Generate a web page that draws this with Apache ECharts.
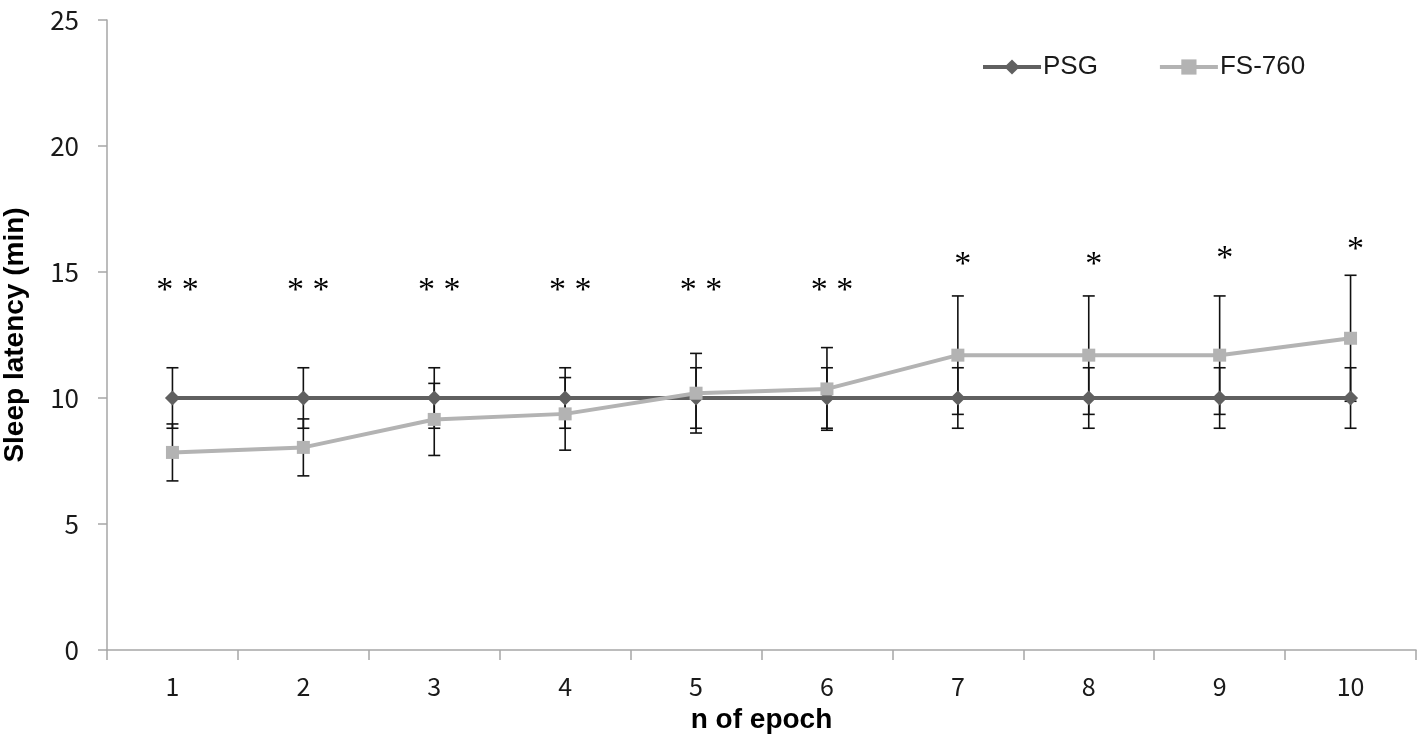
<!DOCTYPE html>
<html>
<head>
<meta charset="utf-8">
<script src="https://cdn.jsdelivr.net/npm/echarts@6/dist/echarts.min.js"></script>
<style>
  html, body { margin: 0; padding: 0; background: #fff; }
  #chart { width: 1424px; height: 739px; }
</style>
</head>
<body>
<div id="chart"></div>
<script>
// epochs on the x axis
const categories = ['1', '2', '3', '4', '5', '6', '7', '8', '9', '10']
// mean sleep latency (min)
const psgValues = [10, 10, 10, 10, 10, 10, 10, 10, 10, 10]
const psgErr = [1.2, 1.2, 1.2, 1.2, 1.2, 1.2, 1.2, 1.2, 1.2, 1.2]
const fsValues = [7.84, 8.04, 9.15, 9.37, 10.19, 10.36, 11.7, 11.7, 11.7, 12.37]
const fsErr = [1.13, 1.13, 1.43, 1.44, 1.58, 1.64, 2.35, 2.35, 2.35, 2.5]
// significance marks and the level they sit at
const sigText = ['* *', '* *', '* *', '* *', '* *', '* *', '*', '*', '*', '*']
const sigY = [14.5, 14.5, 14.5, 14.5, 14.5, 14.5, 15.5, 15.5, 15.75, 16.1]
const yTicks = [0, 5, 10, 15, 20, 25]

const axisGray = '#a6a6a6'
const labelFont = '"Noto Sans CJK JP", "Noto Sans", sans-serif'

const errData = (vals, errs) => vals.map((v, i) => [i, v - errs[i], v + errs[i]])

const renderErr = (params, api) => {
	const lo = api.coord([api.value(0), api.value(1)])
	const hi = api.coord([api.value(0), api.value(2)])
	const half = 6
	const style = { stroke: '#111', lineWidth: 1.6 }
	return {
		type: 'group',
		children: [
			{ type: 'line', shape: { x1: lo[0], y1: lo[1], x2: hi[0], y2: hi[1] }, style },
			{ type: 'line', shape: { x1: lo[0] - half, y1: lo[1], x2: lo[0] + half, y2: lo[1] }, style },
			{ type: 'line', shape: { x1: hi[0] - half, y1: hi[1], x2: hi[0] + half, y2: hi[1] }, style }
		]
	}
}

const chart = echarts.init(document.getElementById('chart'), null, { renderer: 'canvas' })

const option = {
	animation: false,
	backgroundColor: '#fff',
	grid: { left: 107, right: 8, top: 20, bottom: 89, containLabel: false, outerBoundsMode: 'none' },
	legend: {
		data: ['PSG', 'FS-760'],
		left: 976,
		top: 49,
		itemWidth: 58,
		itemHeight: 19,
		itemGap: 60,
		lineStyle: { width: 4 },
		textStyle: { fontSize: 26, color: '#1a1a1a', fontFamily: '"Liberation Sans", Arial, sans-serif', padding: [0, 0, 0, -3] }
	},
	xAxis: {
		type: 'category',
		data: categories,
		boundaryGap: true,
		name: 'n of epoch',
		nameLocation: 'middle',
		nameGap: 56,
		nameTextStyle: { fontSize: 28, fontWeight: 'bold', color: '#000', fontFamily: '"Liberation Sans", Arial, sans-serif' },
		axisLine: { show: true, lineStyle: { color: axisGray, width: 1.5 } },
		axisTick: { show: true, length: 10, lineStyle: { color: axisGray, width: 1.5 } },
		axisLabel: { fontSize: 25, color: '#1a1a1a', margin: 24, fontFamily: labelFont },
		splitLine: { show: false }
	},
	yAxis: {
		type: 'value',
		min: yTicks[0],
		max: yTicks[yTicks.length - 1],
		interval: 5,
		name: 'Sleep latency (min)',
		nameLocation: 'middle',
		nameGap: 78,
		nameTextStyle: { fontSize: 28, fontWeight: 'bold', color: '#000', fontFamily: '"Liberation Sans", Arial, sans-serif' },
		axisLine: { show: true, lineStyle: { color: axisGray, width: 1.5 } },
		axisTick: { show: true, length: 9, lineStyle: { color: axisGray, width: 1.5 } },
		axisLabel: { fontSize: 26, color: '#1a1a1a', margin: 28, fontFamily: labelFont },
		splitLine: { show: false }
	},
	series: [
		{
			name: 'PSG err',
			type: 'custom',
			renderItem: renderErr,
			data: errData(psgValues, psgErr),
			z: 1,
			silent: true
		},
		{
			name: 'FS-760 err',
			type: 'custom',
			renderItem: renderErr,
			data: errData(fsValues, fsErr),
			z: 1,
			silent: true
		},
		{
			name: 'PSG',
			type: 'line',
			data: psgValues,
			z: 3,
			symbol: 'diamond',
			symbolSize: 15,
			lineStyle: { color: '#606060', width: 4 },
			itemStyle: { color: '#606060' }
		},
		{
			name: 'FS-760',
			type: 'line',
			data: fsValues,
			z: 4,
			symbol: 'rect',
			symbolSize: 13,
			lineStyle: { color: '#b3b3b3', width: 4 },
			itemStyle: { color: '#b3b3b3' }
		},
		{
			name: 'sig',
			type: 'custom',
			data: sigY.map((y, i) => [i, y]),
			z: 5,
			silent: true,
			renderItem: (params, api) => {
				const p = api.coord([api.value(0), api.value(1)])
				return {
					type: 'text',
					x: p[0] + 5,
					y: p[1] + 6,
					style: {
						text: sigText[params.dataIndex],
						font: '34px "Liberation Serif", "Times New Roman", serif',
						fill: '#000',
						align: 'center',
						verticalAlign: 'middle'
					}
				}
			}
		}
	]
}

option && chart.setOption(option)
</script>
</body>
</html>
